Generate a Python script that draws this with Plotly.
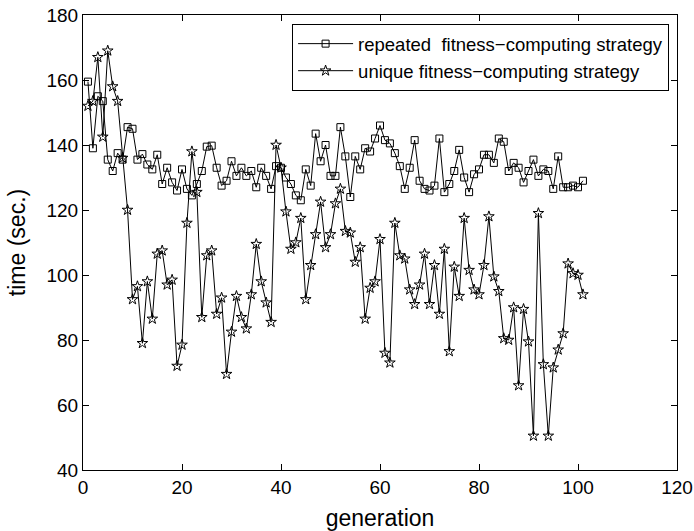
import plotly.graph_objects as go

generation = list(range(1, 102))

repeated = [159.5, 139, 155, 153.5, 135.5, 132, 137.5, 135.5, 145.5, 145,
            135.5, 137.2, 134, 132.5, 137, 128, 133, 128.5, 126, 132.5,
            126.5, 124.5, 128, 132, 139.5, 139.8, 133, 127.5, 129, 135,
            130.5, 133, 130.5, 132, 127, 133, 130.5, 126.5, 133.5, 133,
            130, 128, 124.5, 123, 132.5, 127.5, 143.5, 135, 140, 130.5,
            130.5, 145.5, 136.5, 124, 136.5, 132.5, 139, 138, 142, 146,
            141.5, 140.5, 137.5, 133.5, 126.5, 133, 141.5, 129, 126.5, 126,
            127.5, 142, 125.5, 128, 132, 138.5, 130, 125.5, 131, 132.5,
            137, 137, 134.5, 142, 141, 132, 134.5, 133, 128.5, 132,
            135.5, 130.5, 132.5, 132, 126.5, 136.5, 127, 127, 127.5, 127,
            129]

unique = [152, 153.5, 167, 142.5, 169, 158, 153.5, 136, 120, 92.5,
          96.5, 79, 98, 86.5, 106.5, 107.5, 97, 98.5, 72, 78.5,
          116, 138, 125.5, 87, 106, 107.5, 88, 93, 69.5, 82.5,
          93.5, 87, 83.5, 94, 109.5, 98, 91.5, 85.5, 140, 133,
          119.5, 108, 110, 117.5, 92.5, 103, 112.5, 122.5, 108.5, 112.5,
          122, 126.5, 113.5, 113, 104, 108.5, 86.5, 96, 98, 111,
          76, 73, 116, 106, 105, 95.5, 91, 97, 106.5, 91,
          103, 88, 108, 76.5, 102.5, 93.5, 117.5, 101.5, 95.5, 94,
          103, 118, 99.5, 95, 80.5, 80, 90, 66, 89.5, 79.5,
          50.5, 119, 72.5, 50.5, 71.5, 77, 82, 103.5, 100.5, 100,
          94]

x_ticks = [0, 20, 40, 60, 80, 100, 120]
y_ticks = [40, 60, 80, 100, 120, 140, 160, 180]

font_family = "Liberation Sans, Arial, sans-serif"

fig = go.Figure()
fig.add_trace(go.Scatter(
    x=generation, y=repeated, mode="lines+markers",
    name="repeated  fitness\u2212computing strategy",
    line=dict(color="black", width=1),
    marker=dict(symbol="square-open", size=7, color="black", line=dict(width=1)),
))
fig.add_trace(go.Scatter(
    x=generation, y=unique, mode="lines+markers",
    name="unique fitness\u2212computing strategy",
    line=dict(color="black", width=1),
    marker=dict(symbol="star-open", size=8, color="black", line=dict(width=1)),
))

axis_common = dict(
    showline=True, linecolor="black", linewidth=1, mirror="ticks",
    ticks="inside", ticklen=6, tickcolor="black", showgrid=False,
    zeroline=False, automargin=False,
    tickfont=dict(size=19, color="black", family=font_family),
)

fig.update_layout(
    width=694, height=531,
    margin=dict(l=83, r=17, t=15, b=61),
    paper_bgcolor="white", plot_bgcolor="white",
    font=dict(family=font_family, color="black"),
    xaxis=dict(range=[0, 120], tickvals=x_ticks,
               title=dict(text="generation", font=dict(size=23), standoff=14),
               **axis_common),
    yaxis=dict(range=[40, 180], tickvals=y_ticks,
               title=dict(text="time (sec.)", font=dict(size=23), standoff=14),
               **axis_common),
    legend=dict(x=0.352, y=0.98, xanchor="left", yanchor="top",
                bordercolor="black", borderwidth=1, bgcolor="white",
                font=dict(size=18.5, color="black", family=font_family),
                itemwidth=55, tracegroupgap=0),
    showlegend=True,
)

fig.write_html("out.html")
